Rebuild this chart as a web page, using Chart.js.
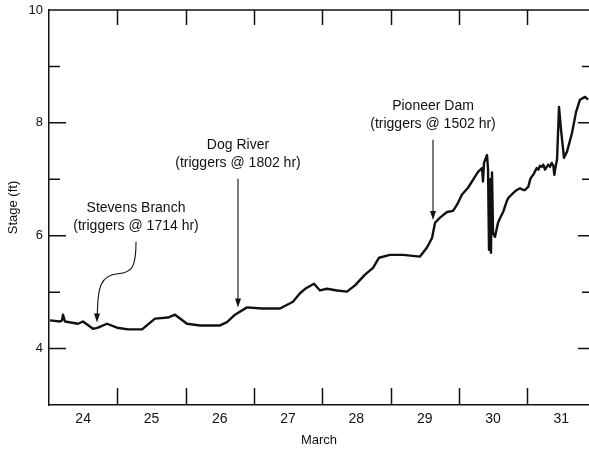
<!DOCTYPE html>
<html>
<head>
<meta charset="utf-8">
<script src="https://cdn.jsdelivr.net/npm/chart.js@4"></script>
<style>
  body { margin: 0; background: #fff; }
  canvas { display: block; }
</style>
</head>
<body>
<canvas id="stageChart" width="589" height="449"></canvas>
<script>
// time in days of March (24.0 = midnight starting the 24th)
const days = [
  24.015, 24.161, 24.190, 24.205, 24.234, 24.425, 24.498, 24.644, 24.717, 24.849,
  24.996, 25.157, 25.362, 25.552, 25.742, 25.845, 26.020, 26.211, 26.504, 26.606,
  26.723, 26.899, 27.119, 27.382, 27.572, 27.675, 27.763, 27.880, 27.968, 28.070,
  28.217, 28.363, 28.480, 28.627, 28.744, 28.832, 28.993, 29.183, 29.432, 29.534,
  29.608, 29.652, 29.725, 29.827, 29.915, 29.974, 30.047, 30.135, 30.208, 30.281,
  30.340, 30.354, 30.369, 30.413, 30.428, 30.442, 30.457, 30.471, 30.486, 30.501,
  30.530, 30.574, 30.603, 30.652, 30.701, 30.725, 30.775, 30.798, 30.848, 30.896,
  30.945, 30.969, 31.018, 31.043, 31.067, 31.091, 31.140, 31.164, 31.189, 31.214,
  31.237, 31.262, 31.287, 31.310, 31.335, 31.360, 31.384, 31.398, 31.418, 31.438,
  31.467, 31.496, 31.540, 31.584, 31.657, 31.716, 31.774, 31.848, 31.892
];
// stage in ft
const stage = [
  4.50, 4.48, 4.50, 4.60, 4.48, 4.44, 4.48, 4.35, 4.37, 4.44,
  4.37, 4.34, 4.34, 4.53, 4.55, 4.60, 4.44, 4.41, 4.41, 4.47,
  4.60, 4.73, 4.71, 4.71, 4.83, 4.98, 5.07, 5.15, 5.03, 5.06,
  5.03, 5.01, 5.12, 5.31, 5.43, 5.61, 5.66, 5.66, 5.63, 5.79,
  5.96, 6.23, 6.32, 6.42, 6.44, 6.55, 6.73, 6.85, 6.99, 7.13,
  7.20, 6.96, 7.29, 7.43, 7.17, 5.75, 7.00, 5.70, 7.12, 6.05,
  5.98, 6.23, 6.31, 6.43, 6.61, 6.67, 6.73, 6.76, 6.81, 6.84,
  6.81, 6.81, 6.87, 6.99, 7.05, 7.08, 7.20, 7.17, 7.24, 7.22,
  7.26, 7.17, 7.22, 7.26, 7.22, 7.29, 7.24, 7.08, 7.23, 7.35,
  8.28, 7.88, 7.38, 7.49, 7.82, 8.19, 8.41, 8.46, 8.41
];

const dayLabels = [24, 25, 26, 27, 28, 29, 30, 31];
const dayBounds = [25, 26, 27, 28, 29, 30, 31];
const majorStage = [4, 6, 8, 10];
const minorStage = [5, 7, 9];

// gauge notes: text lines at (day, stage), arrow in data units
const gaugeNames = ["Stevens Branch", "Dog River", "Pioneer Dam"];
const gaugeNotes = ["(triggers @ 1714 hr)", "(triggers @ 1802 hr)", "(triggers @ 1502 hr)"];
const noteDay = [25.274, 26.767, 29.622];
const noteStage = [[6.48, 6.17], [7.61, 7.29], [8.30, 7.97]];
const arrowFrom = [[25.274, 5.894], [26.767, 7.01], [29.622, 7.70]];
const arrowTip = [[24.703, 4.46], [26.767, 4.73], [29.622, 6.28]];
// the Stevens Branch arrow bends: two cubic pieces
const stevensBend = [
  [[25.274, 5.434], [25.215, 5.345], [25.010, 5.327]],
  [[24.747, 5.310], [24.717, 5.044], [24.710, 4.69]]
];

const INK = "#111";
Chart.defaults.font.family = "'Liberation Sans', Arial, Helvetica, sans-serif";
Chart.defaults.color = INK;

const frameTicks = {
  id: "frameTicks",
  afterDatasetsDraw(chart) {
    const { ctx, chartArea: a, scales: { x, y } } = chart;
    ctx.save();
    ctx.strokeStyle = INK;
    ctx.lineWidth = 1.5;
    ctx.beginPath();
    ctx.moveTo(a.left, a.top);
    ctx.lineTo(a.right, a.top);
    dayBounds.forEach(d => {
      const px = Math.round(x.getPixelForValue(d)) + 0.5;
      ctx.moveTo(px, a.bottom);
      ctx.lineTo(px, a.bottom - 17);
      ctx.moveTo(px, a.top);
      ctx.lineTo(px, a.top + 15);
    });
    majorStage.forEach(v => {
      const py = y.getPixelForValue(v);
      ctx.moveTo(a.left, py);
      ctx.lineTo(a.left + 17, py);
      ctx.moveTo(a.right, py);
      ctx.lineTo(a.right - 11, py);
    });
    minorStage.forEach(v => {
      const py = y.getPixelForValue(v);
      ctx.moveTo(a.left, py);
      ctx.lineTo(a.left + 11, py);
      ctx.moveTo(a.right, py);
      ctx.lineTo(a.right - 7, py);
    });
    ctx.stroke();
    ctx.restore();
  }
};

const gaugeLabels = {
  id: "gaugeLabels",
  afterDraw(chart) {
    const { ctx, scales: { x, y } } = chart;
    const P = p => [x.getPixelForValue(p[0]), y.getPixelForValue(p[1])];
    ctx.save();
    ctx.fillStyle = INK;
    ctx.strokeStyle = INK;
    ctx.font = "14px 'Liberation Sans', Arial, sans-serif";
    ctx.textAlign = "center";
    ctx.textBaseline = "middle";
    gaugeNames.forEach((name, i) => {
      const cx = x.getPixelForValue(noteDay[i]);
      ctx.fillText(name, cx, y.getPixelForValue(noteStage[i][0]));
      ctx.fillText(gaugeNotes[i], cx, y.getPixelForValue(noteStage[i][1]));

      const [sx, sy] = P(arrowFrom[i]);
      const [tx, ty] = P(arrowTip[i]);
      ctx.lineWidth = 1.1;
      ctx.beginPath();
      ctx.moveTo(sx, sy);
      if (i === 0) {
        stevensBend.forEach(seg => {
          const [c1, c2, e] = seg.map(P);
          ctx.bezierCurveTo(c1[0], c1[1], c2[0], c2[1], e[0], e[1]);
        });
      }
      ctx.lineTo(tx, ty - 6);
      ctx.stroke();
      ctx.beginPath();
      ctx.moveTo(tx, ty);
      ctx.lineTo(tx - 3, ty - 9);
      ctx.lineTo(tx + 3, ty - 9);
      ctx.closePath();
      ctx.fill();
    });
    ctx.restore();
  }
};

new Chart(document.getElementById("stageChart"), {
  type: "line",
  data: {
    datasets: [{
      data: days.map((d, i) => ({ x: d, y: stage[i] })),
      borderColor: INK,
      borderWidth: 2.4,
      pointRadius: 0,
      tension: 0,
      borderJoinStyle: "round",
    }],
  },
  options: {
    responsive: false,
    animation: false,
    layout: { padding: { top: 10, right: 0, left: 0, bottom: 0 } },
    plugins: { legend: { display: false }, tooltip: { enabled: false } },
    scales: {
      x: {
        type: "linear",
        min: 24,
        max: 31.906,
        afterBuildTicks: axis => { axis.ticks = dayLabels.map(d => ({ value: d + 0.5 })); },
        afterFit: axis => { axis.height = 44; axis.paddingLeft = 0; axis.paddingRight = 0; },
        grid: { display: false, drawTicks: false },
        border: { display: true, color: INK, width: 1.5 },
        ticks: {
          autoSkip: false,
          maxRotation: 0,
          padding: 6,
          font: { size: 14 },
          color: INK,
          callback: v => Math.floor(v),
        },
        title: { display: true, text: "March", font: { size: 13 }, padding: { top: 0, bottom: 1 }, color: INK },
      },
      y: {
        min: 3,
        max: 10,
        afterBuildTicks: axis => { axis.ticks = majorStage.map(v => ({ value: v })); },
        afterFit: axis => { axis.width = 49; axis.paddingTop = 0; axis.paddingBottom = 0; },
        grid: { display: false, drawTicks: false },
        border: { display: true, color: INK, width: 1.5 },
        ticks: { padding: 6, font: { size: 13 }, color: INK },
        title: { display: true, text: "Stage (ft)", font: { size: 13 }, padding: { top: 6, bottom: 0 }, color: INK },
      },
    },
  },
  plugins: [frameTicks, gaugeLabels],
});
</script>
</body>
</html>
